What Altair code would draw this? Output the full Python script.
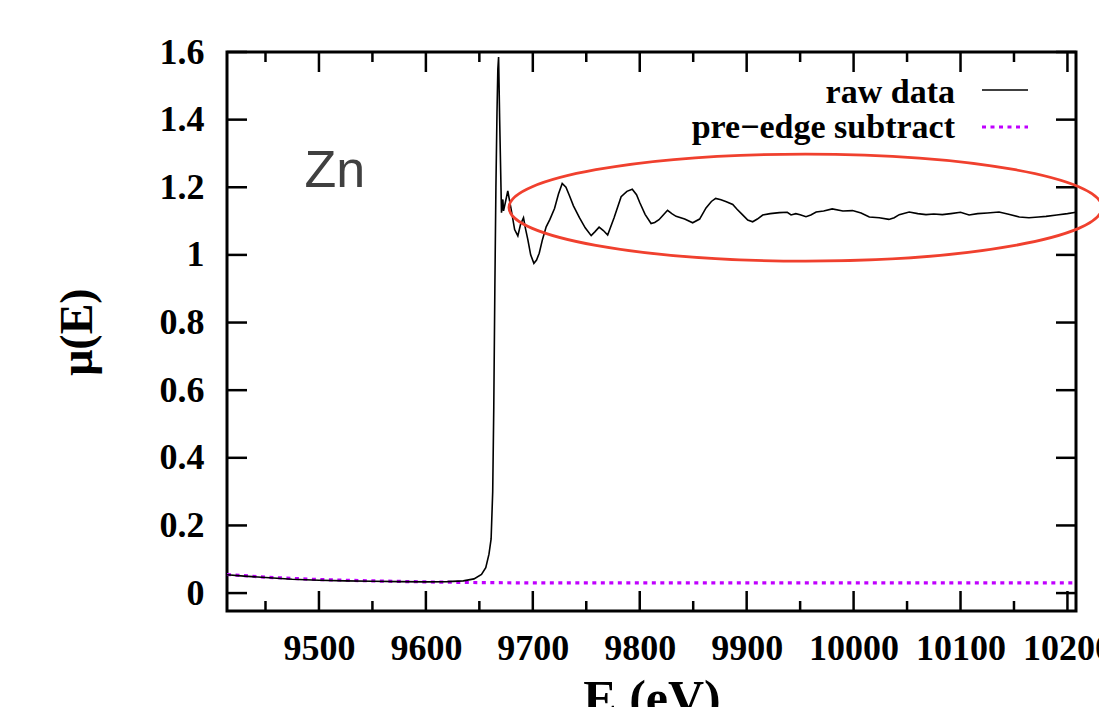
import altair as alt
import pandas as pd

# ---- data ----
raw_E = [9414, 9430, 9450, 9475, 9500, 9525, 9550, 9575, 9600, 9620, 9635, 9645, 9652, 9656,
         9659, 9661, 9662.5, 9663.5, 9664.5, 9665.5, 9666.5, 9667.3, 9668, 9669, 9670.7, 9672,
         9672.6, 9674, 9676.6, 9679.8, 9683, 9686, 9688.5, 9691.3, 9693, 9695.3, 9698, 9701,
         9703.5, 9706, 9709, 9712.5, 9716, 9720.3, 9724, 9727.5, 9731, 9734.3, 9738, 9743.6,
         9749, 9754.6, 9758, 9762, 9766, 9770, 9776, 9782.6, 9788, 9793, 9797, 9800, 9805,
         9810.6, 9814, 9818, 9822, 9826, 9830, 9834, 9842, 9849.5, 9856, 9862, 9867, 9871,
         9876, 9881, 9887, 9891, 9896, 9901, 9905.6, 9910, 9915, 9922, 9930.6, 9938, 9941.5,
         9946, 9950, 9955.5, 9960, 9965, 9972, 9980, 9990, 9999, 10007, 10014.7, 10024, 10033,
         10038, 10042.7, 10052, 10060, 10067.7, 10075, 10083, 10091, 10100, 10108, 10116,
         10125, 10136, 10145, 10155, 10164, 10173, 10180, 10190, 10200, 10208]
raw_mu = [0.054, 0.050, 0.046, 0.041, 0.038, 0.036, 0.035, 0.034, 0.033, 0.034, 0.036, 0.042,
          0.055, 0.075, 0.115, 0.16, 0.30, 0.55, 0.90, 1.20, 1.42, 1.55, 1.585, 1.40, 1.125,
          1.164, 1.13, 1.15, 1.189, 1.134, 1.075, 1.056, 1.09, 1.110, 1.08, 1.046, 1.0, 0.975,
          0.985, 1.005, 1.045, 1.083, 1.105, 1.137, 1.18, 1.211, 1.200, 1.175, 1.145, 1.110,
          1.080, 1.057, 1.068, 1.082, 1.072, 1.059, 1.11, 1.172, 1.188, 1.194, 1.178, 1.155,
          1.12, 1.093, 1.096, 1.104, 1.118, 1.132, 1.122, 1.114, 1.106, 1.095, 1.106, 1.139,
          1.158, 1.167, 1.163, 1.157, 1.149, 1.135, 1.119, 1.103, 1.098, 1.106, 1.118, 1.122,
          1.125, 1.126, 1.118, 1.122, 1.119, 1.113, 1.118, 1.127, 1.130, 1.136, 1.130, 1.131,
          1.124, 1.112, 1.110, 1.105, 1.110, 1.119, 1.127, 1.122, 1.119, 1.121, 1.119, 1.122,
          1.126, 1.118, 1.122, 1.124, 1.127, 1.120, 1.112, 1.110, 1.112, 1.114, 1.118, 1.122,
          1.126]

pre_E = [9414, 9450, 9500, 9550, 9600, 9650, 9700, 9800, 9900, 10000, 10100, 10208]
pre_mu = [0.055, 0.047, 0.040, 0.036, 0.033, 0.031, 0.030, 0.030, 0.030, 0.030, 0.030, 0.030]

x_major_ticks = [9500, 9600, 9700, 9800, 9900, 10000, 10100, 10200]
x_minor_ticks = [9450, 9550, 9650, 9750, 9850, 9950, 10050, 10150]
y_major_ticks = [0, 0.2, 0.4, 0.6, 0.8, 1.0, 1.2, 1.4, 1.6]

legend_labels = ["raw data", "pre\u2212edge subtract"]
element_label = ["Zn"]
element_pos_E = [9486.5]
element_pos_mu = [1.202]
ellipse_center_E = [9955]
ellipse_center_mu = [1.140]

# ---- layout ----
W, H = 849, 559
SERIF = "Liberation Serif"
MAJ, MIN = 20, 10

x_scale = alt.Scale(domain=[9414, 10208], nice=False, zero=False)
y_scale = alt.Scale(domain=[-0.053, 1.6], nice=False, zero=False)

x_enc = alt.X("E:Q", scale=x_scale, axis=alt.Axis(
    values=x_major_ticks, format="d", ticks=False, tickSize=0, domain=False, grid=False,
    labelFont=SERIF, labelFontWeight="bold", labelFontSize=36, labelColor="black",
    labelPadding=20, labelFlush=False, labelOverlap=False, labelBaseline="top",
    title="E (eV)", titleFont=SERIF, titleFontWeight="bold", titleFontSize=50,
    titleColor="black", titleX=W / 2, titleY=103, titleBaseline="alphabetic",
    titleAlign="center"))
y_enc = alt.Y("mu:Q", scale=y_scale, axis=alt.Axis(
    values=y_major_ticks, format="~g", ticks=False, tickSize=0, domain=False, grid=False,
    labelFont=SERIF, labelFontWeight="bold", labelFontSize=36, labelColor="black",
    labelPadding=23, labelFlush=False, labelOverlap=False,
    title="\u03bc(E)", titleFont=SERIF, titleFontWeight="bold", titleFontSize=46,
    titleColor="black", titleX=-150, titleY=H / 2, titleAngle=270,
    titleBaseline="middle", titleAlign="center"))

raw_df = pd.DataFrame({"E": raw_E, "mu": raw_mu})
pre_df = pd.DataFrame({"E": pre_E, "mu": pre_mu})
xmaj_df = pd.DataFrame({"E": x_major_ticks})
xmin_df = pd.DataFrame({"E": x_minor_ticks})
ymaj_df = pd.DataFrame({"mu": y_major_ticks})

PURPLE = "#c000ff"

raw_line = alt.Chart(raw_df).mark_line(color="black", strokeWidth=1.6).encode(x=x_enc, y=y_enc)
pre_line = alt.Chart(pre_df).mark_line(
    color=PURPLE, strokeWidth=3.2, strokeDash=[4, 4.5], strokeCap="butt").encode(x=x_enc, y=y_enc)

tick_style = dict(color="black", strokeWidth=2.5)
xb_maj = alt.Chart(xmaj_df).mark_rule(**tick_style).encode(x=x_enc, y=alt.value(H), y2=alt.value(H - MAJ))
xt_maj = alt.Chart(xmaj_df).mark_rule(**tick_style).encode(x=x_enc, y=alt.value(0), y2=alt.value(MAJ))
xb_min = alt.Chart(xmin_df).mark_rule(**tick_style).encode(x=x_enc, y=alt.value(H), y2=alt.value(H - MIN))
xt_min = alt.Chart(xmin_df).mark_rule(**tick_style).encode(x=x_enc, y=alt.value(0), y2=alt.value(MIN))
yl_maj = alt.Chart(ymaj_df).mark_rule(**tick_style).encode(y=y_enc, x=alt.value(0), x2=alt.value(MAJ))
yr_maj = alt.Chart(ymaj_df).mark_rule(**tick_style).encode(y=y_enc, x=alt.value(W), x2=alt.value(W - MAJ))

zn_df = pd.DataFrame({"E": element_pos_E, "mu": element_pos_mu, "label": element_label})
zn_text = alt.Chart(zn_df).mark_text(
    align="left", baseline="alphabetic", font="Liberation Sans", fontSize=52, color="#404040"
).encode(x=x_enc, y=y_enc, text="label:N")

ell_df = pd.DataFrame({"E": ellipse_center_E, "mu": ellipse_center_mu})
ratio = 53.5 / 296.5
ell_path = f"M -1 0 A 1 {ratio:.4f} 0 1 1 1 0 A 1 {ratio:.4f} 0 1 1 -1 0 Z"
ellipse = alt.Chart(ell_df).mark_point(
    shape=ell_path, size=(2 * 296.5) ** 2, filled=False, color="#f0402e",
    strokeWidth=2.8, opacity=1
).encode(x=x_enc, y=y_enc)

leg1_df = pd.DataFrame({"label": [legend_labels[0]]})
leg2_df = pd.DataFrame({"label": [legend_labels[1]]})
leg_text_style = dict(align="right", baseline="alphabetic", font=SERIF, fontWeight="bold",
                      fontSize=34, color="black")
leg1_text = alt.Chart(leg1_df).mark_text(**leg_text_style).encode(
    x=alt.value(728), y=alt.value(51), text="label:N")
leg2_text = alt.Chart(leg2_df).mark_text(**leg_text_style).encode(
    x=alt.value(728), y=alt.value(86), text="label:N")
leg1_line = alt.Chart(leg1_df).mark_rule(color="black", strokeWidth=1.6).encode(
    x=alt.value(755), x2=alt.value(801), y=alt.value(38))
leg2_line = alt.Chart(leg2_df).mark_rule(
    color=PURPLE, strokeWidth=3.2, strokeDash=[4, 4.5], strokeCap="butt").encode(
    x=alt.value(755), x2=alt.value(801), y=alt.value(75))

chart = alt.layer(
    pre_line, raw_line, xb_maj, xt_maj, xb_min, xt_min, yl_maj, yr_maj,
    zn_text, ellipse, leg1_text, leg2_text, leg1_line, leg2_line
).properties(
    width=W, height=H,
    autosize=alt.AutoSizeParams(type="none"),
    padding={"left": 219, "top": 44, "right": 23, "bottom": 96},
    background="white",
).configure_view(stroke="black", strokeWidth=3)

chart.save("out.html", embed_options={"renderer": "svg", "actions": False})
